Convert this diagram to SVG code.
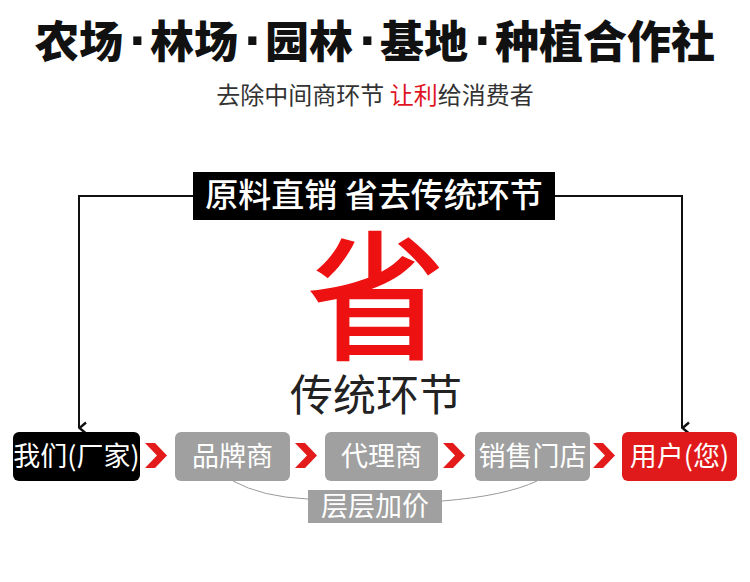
<svg xmlns="http://www.w3.org/2000/svg" width="750" height="582" viewBox="0 0 750 582">
<style>
text{font-family:"Noto Sans CJK SC","Noto Sans",sans-serif;}
.title{font-size:44px;font-weight:900;fill:#111;}
.dot{font-family:"Liberation Sans",sans-serif;font-size:58px;font-weight:700;fill:#111;text-anchor:middle;}
.sub{font-size:24px;fill:#333;}
.lbl{font-size:33px;fill:#fff;font-weight:500;}
.node{font-size:27px;fill:#fff;text-anchor:middle;}
.gray{fill:#a0a0a0;}
.chev{fill:#e31b1b;}
.conn{fill:none;stroke:#111;stroke-width:2;}
.curve{fill:none;stroke:#9a9a9a;stroke-width:1;}
</style>
<defs>
<marker id="arr" markerWidth="14" markerHeight="10" refX="7" refY="9" orient="auto-start-reverse" markerUnits="userSpaceOnUse" viewBox="0 0 14 10">
<path d="M1.5,2 L7,8.5 L12.5,2" fill="none" stroke="#111" stroke-width="2.4"/>
</marker>
</defs>
<rect width="750" height="582" fill="#fff"/>
<g id="header">
<text class="title" x="35" y="58">农场</text>
<text class="dot" x="139" y="60">·</text>
<text class="title" x="150" y="58">林场</text>
<text class="dot" x="254" y="60">·</text>
<text class="title" x="265" y="58">园林</text>
<text class="dot" x="369" y="60">·</text>
<text class="title" x="380" y="58">基地</text>
<text class="dot" x="484" y="60">·</text>
<text class="title" x="495" y="58">种植合作社</text>
<text class="sub" x="375" y="104" text-anchor="middle">去除中间商环节 <tspan fill="#e0141e">让利</tspan>给消费者</text>
</g>
<g id="connectors">
<path class="conn" d="M193,196 H79 V428" marker-end="url(#arr)"/>
<path class="conn" d="M555,196 H682 V428" marker-end="url(#arr)"/>
<path class="curve" d="M233,481 Q262,497 308,499"/>
<path class="curve" d="M442,501 Q505,496 537,481"/>
<polygon class="chev" points="145,443 155,443 167,455.5 155,468 145,468 157,455.5"/>
<polygon class="chev" points="295,443 305,443 317,455.5 305,468 295,468 307,455.5"/>
<polygon class="chev" points="443,443 453,443 465,455.5 453,468 443,468 455,455.5"/>
<polygon class="chev" points="593,443 603,443 615,455.5 603,468 593,468 605,455.5"/>
</g>
<g id="label-direct">
<rect x="193" y="172" width="362" height="48" fill="#000"/>
<text class="lbl" x="374" y="207" text-anchor="middle">原料直销 省去传统环节</text>
</g>
<g id="center">
<text x="376" y="349" font-size="140" font-weight="500" fill="#ee1111" text-anchor="middle">省</text>
<text x="376" y="411" font-size="43" fill="#222" text-anchor="middle">传统环节</text>
</g>
<g id="n-factory">
<rect x="13" y="432" width="127" height="49" rx="6" fill="#000"/>
<text class="node" x="76.5" y="466">我们(厂家)</text>
</g>
<g id="n-brand">
<rect class="gray" x="175" y="432" width="115" height="49" rx="6"/>
<text class="node" x="232.5" y="466">品牌商</text>
</g>
<g id="n-agent">
<rect class="gray" x="325" y="432" width="113" height="49" rx="6"/>
<text class="node" x="381.5" y="466">代理商</text>
</g>
<g id="n-store">
<rect class="gray" x="475" y="432" width="115" height="49" rx="6"/>
<text class="node" x="532.5" y="466">销售门店</text>
</g>
<g id="n-user">
<rect x="622" y="432" width="115" height="49" rx="6" fill="#e01a1a"/>
<text class="node" x="679.5" y="466">用户(您)</text>
</g>
<g id="n-markup">
<rect class="gray" x="308" y="490" width="134" height="33"/>
<text class="node" x="375" y="516">层层加价</text>
</g>
</svg>
